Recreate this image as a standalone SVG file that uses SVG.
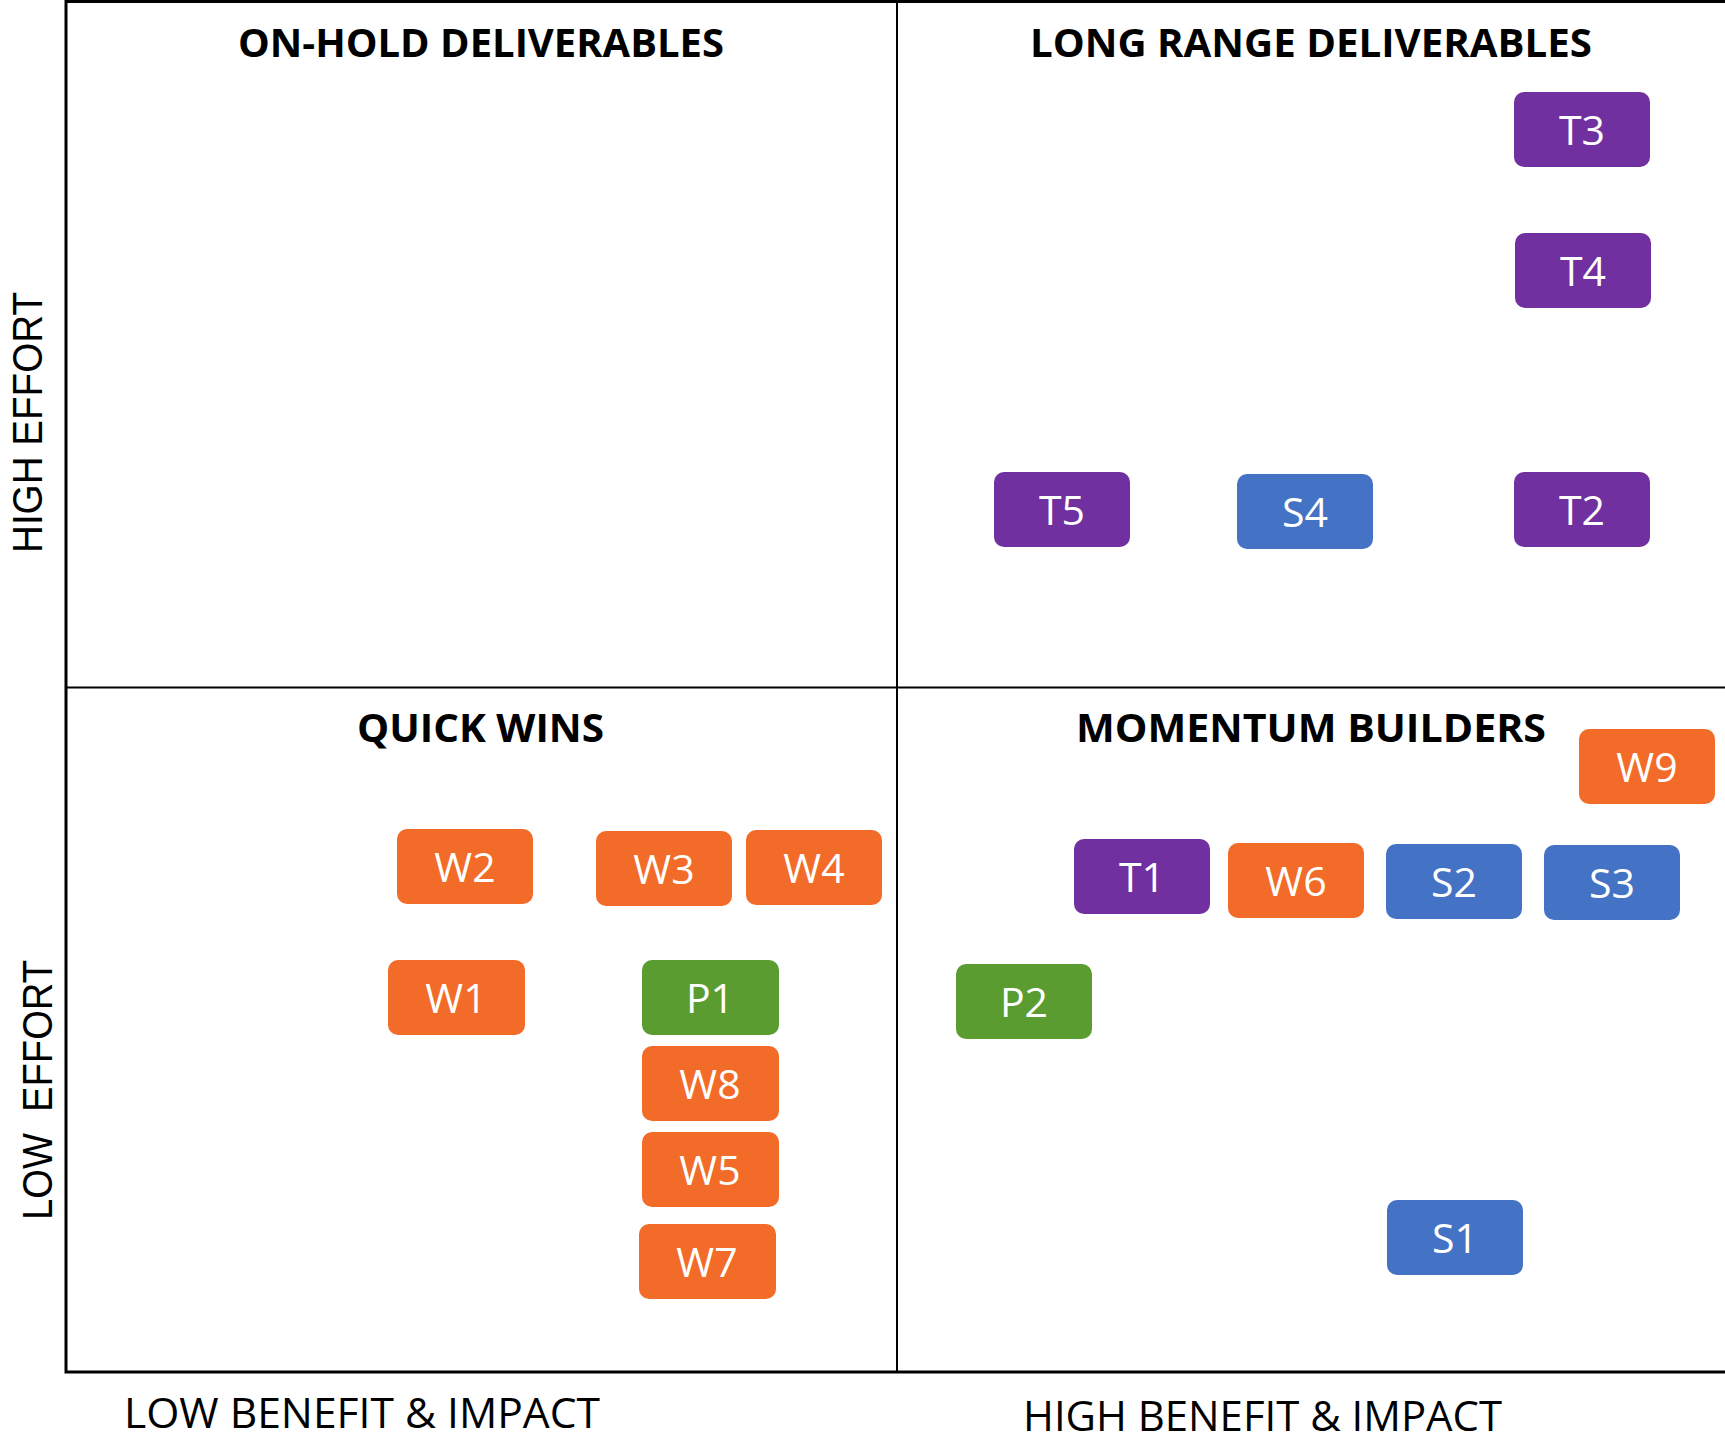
<svg xmlns="http://www.w3.org/2000/svg" width="1725" height="1440" viewBox="0 0 1725 1440">
  <style>
    .frame { stroke: #000; stroke-width: 3; fill: none; }
    .divider { stroke: #000; stroke-width: 2; fill: none; }
    .title { font-family: "Open Sans", "Liberation Sans", sans-serif; font-weight: 700; font-size: 40px; fill: #000; }
    .axis { font-family: "Open Sans", "Liberation Sans", sans-serif; font-weight: 400; font-size: 42px; fill: #000; white-space: pre; }
    .axis.side { font-family: "Liberation Sans", "Open Sans", sans-serif; }
    .tag rect { rx: 10px; ry: 10px; }
    .tag text { font-family: "Open Sans", "Liberation Sans", sans-serif; font-size: 41px; fill: #fff; text-anchor: middle; }
    .orange rect { fill: #F26B28; }
    .purple rect { fill: #7030A0; }
    .blue rect { fill: #4472C4; }
    .green rect { fill: #5B9C31; }
  </style>
  <rect width="1725" height="1440" fill="#fff"/>

  <!-- quadrant grid -->
  <g id="grid">
    <path class="frame" d="M66,1.5 H1725 M66,0 V1373.5 M64.5,1372 H1725"/>
    <path class="divider" d="M897,2 V1372 M66,687.5 H1725"/>
  </g>

  <!-- quadrant titles -->
  <g id="titles">
    <text class="title" x="238" y="57" textLength="486" lengthAdjust="spacingAndGlyphs">ON-HOLD DELIVERABLES</text>
    <text class="title" x="1030" y="57" textLength="562" lengthAdjust="spacingAndGlyphs">LONG RANGE DELIVERABLES</text>
    <text class="title" x="357" y="742" textLength="247" lengthAdjust="spacingAndGlyphs">QUICK WINS</text>
    <text class="title" x="1076" y="742" textLength="470" lengthAdjust="spacingAndGlyphs">MOMENTUM BUILDERS</text>
  </g>

  <!-- axis labels -->
  <g id="axes">
    <text class="axis" x="124" y="1428" textLength="476" lengthAdjust="spacingAndGlyphs">LOW BENEFIT &amp; IMPACT</text>
    <text class="axis" x="1023" y="1431" textLength="479" lengthAdjust="spacingAndGlyphs">HIGH BENEFIT &amp; IMPACT</text>
    <text class="axis side" transform="translate(42,553) rotate(-90)" textLength="261" lengthAdjust="spacingAndGlyphs">HIGH EFFORT</text>
    <text class="axis side" transform="translate(52,1220) rotate(-90)" textLength="260" lengthAdjust="spacingAndGlyphs">LOW  EFFORT</text>
  </g>

  <!-- deliverable tags -->
  <g id="T3" class="tag purple"><rect x="1514" y="92" width="136" height="75"/><text x="1582" y="145">T3</text></g>
  <g id="T4" class="tag purple"><rect x="1515" y="233" width="136" height="75"/><text x="1583" y="286">T4</text></g>
  <g id="T5" class="tag purple"><rect x="994" y="472" width="136" height="75"/><text x="1062" y="525">T5</text></g>
  <g id="S4" class="tag blue"><rect x="1237" y="474" width="136" height="75"/><text x="1305" y="527">S4</text></g>
  <g id="T2" class="tag purple"><rect x="1514" y="472" width="136" height="75"/><text x="1582" y="525">T2</text></g>

  <g id="W9" class="tag orange"><rect x="1579" y="729" width="136" height="75"/><text x="1647" y="782">W9</text></g>
  <g id="T1" class="tag purple"><rect x="1074" y="839" width="136" height="75"/><text x="1142" y="892">T1</text></g>
  <g id="W6" class="tag orange"><rect x="1228" y="843" width="136" height="75"/><text x="1296" y="896">W6</text></g>
  <g id="S2" class="tag blue"><rect x="1386" y="844" width="136" height="75"/><text x="1454" y="897">S2</text></g>
  <g id="S3" class="tag blue"><rect x="1544" y="845" width="136" height="75"/><text x="1612" y="898">S3</text></g>
  <g id="P2" class="tag green"><rect x="956" y="964" width="136" height="75"/><text x="1024" y="1017">P2</text></g>
  <g id="S1" class="tag blue"><rect x="1387" y="1200" width="136" height="75"/><text x="1455" y="1253">S1</text></g>

  <g id="W2" class="tag orange"><rect x="397" y="829" width="136" height="75"/><text x="465" y="882">W2</text></g>
  <g id="W3" class="tag orange"><rect x="596" y="831" width="136" height="75"/><text x="664" y="884">W3</text></g>
  <g id="W4" class="tag orange"><rect x="746" y="830" width="136" height="75"/><text x="814" y="883">W4</text></g>
  <g id="W1" class="tag orange"><rect x="388" y="960" width="137" height="75"/><text x="456" y="1013">W1</text></g>
  <g id="P1" class="tag green"><rect x="642" y="960" width="137" height="75"/><text x="710" y="1013">P1</text></g>
  <g id="W8" class="tag orange"><rect x="642" y="1046" width="137" height="75"/><text x="710" y="1099">W8</text></g>
  <g id="W5" class="tag orange"><rect x="642" y="1132" width="137" height="75"/><text x="710" y="1185">W5</text></g>
  <g id="W7" class="tag orange"><rect x="639" y="1224" width="137" height="75"/><text x="707" y="1277">W7</text></g>

  <g id="connectors"/>
</svg>
